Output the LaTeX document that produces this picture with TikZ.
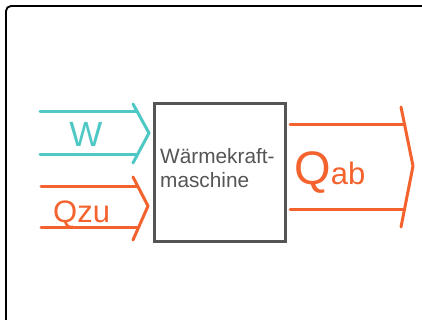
\documentclass[tikz,border=0pt]{standalone}
\usepackage{fontspec}
\setmainfont{Liberation Sans}
\definecolor{tealc}{HTML}{4EC8C4}
\definecolor{orng}{HTML}{F4622E}
\definecolor{grayc}{HTML}{555555}
\begin{document}
\begin{tikzpicture}[x=1pt,y=-1pt,
  flow/.style={line width=3pt, line cap=round, line join=round},
  lbl/.style={inner sep=0pt, anchor=base west}]
\useasboundingbox (0,0) rectangle (422,320);
\fill[white] (0,0) rectangle (422,320);
\draw[line width=1.8pt, rounded corners=5pt] (422,6) -- (6,6) -- (6,320);
% machine box
\node[draw=grayc, line width=3pt, minimum width=131pt, minimum height=138pt, inner sep=0pt] (m) at (219.5,172.5) {};
\node[lbl, anchor=north west, text=grayc, align=left, font=\fontsize{20.8}{24}\selectfont] (mt) at (160,148.5) {Wärmekraft-\\maschine};
% W arrow
\coordinate (w1) at (40,112); \coordinate (w1e) at (137.4,112);
\coordinate (w2) at (40,155); \coordinate (w2e) at (137.3,155);
\draw[flow, tealc] (w1) -- (w1e);
\draw[flow, tealc] (w2) -- (w2e);
\draw[flow, tealc] (133,104) -- (149,133) coordinate (wtip) -- (133,163);
\node[lbl, anchor=base, text=tealc, font=\fontsize{35}{35}\selectfont] (wl) at (86,147) {W};
% Qzu arrow
\coordinate (z1) at (41,187); \coordinate (z1e) at (137.6,187);
\coordinate (z2) at (41,227); \coordinate (z2e) at (138.0,227);
\draw[flow, orng] (z1) -- (z1e);
\draw[flow, orng] (z2) -- (z2e);
\draw[flow, orng] (133,177) -- (148,206) coordinate (ztip) -- (133,240);
\node[lbl, text=orng, font=\fontsize{31}{31}\selectfont] (zl) at (53,222) {Qzu};
% Qab arrow
\coordinate (a1) at (290,125); \coordinate (a1e) at (404.7,125);
\coordinate (a2) at (290,209); \coordinate (a2e) at (404.9,209);
\draw[flow, orng] (a1) -- (a1e);
\draw[flow, orng] (a2) -- (a2e);
\draw[flow, orng] (401,107) -- (413,166) coordinate (atip) -- (401,227);
\node[lbl, text=orng] (al) at (294,185) {\fontsize{47}{47}\selectfont Q\fontsize{31}{31}\selectfont ab};
\end{tikzpicture}
\end{document}
